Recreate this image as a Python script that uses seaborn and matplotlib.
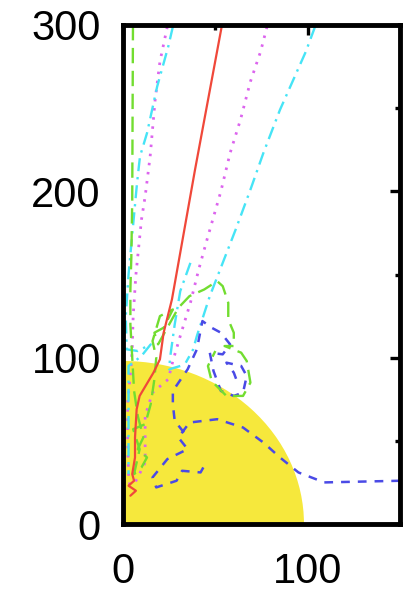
import matplotlib
matplotlib.use("Agg")
import matplotlib.pyplot as plt
from matplotlib.patches import Ellipse
from matplotlib.ticker import MultipleLocator
import seaborn as sns
import pandas as pd

# ---- data -------------------------------------------------------------
body_radius = 98

red_x = [4, 7, 3, 6, 5, 6.5, 6.5, 7.4, 9, 16.5, 20, 22, 26.5, 39, 53.6]
red_y = [17, 20, 23, 26, 30, 40, 52, 69, 77, 91, 99, 115, 135, 213, 300]

green_x = [5.4, 5.2, 5.0, 4.5, 4, 4, 5, 6, 8, 11, 8, 13, 10, 6, 9, 5.5, 12, 15, 17, 18, 16, 20,
           27, 22, 17, 19, 26, 30, 36, 44, 51, 54, 57, 57, 60, 60, 55, 64, 67, 69, 65, 56, 48, 46, 50]
green_y = [300, 250, 195, 160, 141, 120, 100, 80, 65, 52, 45, 40, 34, 30, 45, 57, 60, 72, 87, 100, 110, 125,
           129, 118, 115, 108, 122, 130, 137, 141, 146, 143, 133, 123, 115, 107, 107, 103, 98, 85, 77, 77, 86, 95, 104]

blue_a_x = [43.5, 42, 32, 29, 18, 16, 24, 35, 30, 36, 51, 65, 76, 85, 95, 109, 150]
blue_a_y = [34, 31, 32, 26, 22, 28, 39, 45, 52, 61, 63, 58, 49, 40, 31, 25, 26]
blue_b_x = [33, 28, 27, 27, 35, 40, 43, 48, 53, 58, 54, 47, 49, 53, 60, 65, 67, 64, 56, 60, 62]
blue_b_y = [55, 62, 72, 80, 93, 105, 122, 118, 115, 108, 102, 103, 92, 80, 77, 79, 89, 95, 97, 91, 85]

mag1_x = [24, 20, 17.4, 14.7, 12, 10, 7, 5.5, 5, 4, 2.5, 2.5, 3, 4]
mag1_y = [299, 278, 255, 221, 197, 183, 150, 125, 105, 90, 73, 50, 30, 20]
mag2_x = [78, 74.5, 69, 63.6, 58, 53, 45.5, 41, 36.5, 31, 27, 24.5, 16, 12, 12, 12, 8, 5]
mag2_y = [299, 284, 266, 243, 223, 200, 171, 153, 133, 113, 98, 87, 79, 65, 51, 37, 28, 22]

cyan1_x = [27, 24.5, 18.5, 13, 9.2, 7.6, 5.5, 3, 1.5, 2, 8, 15, 10, 3, 3, 3, 3]
cyan1_y = [299, 287, 263, 235, 221, 205, 180, 150, 125, 105, 104, 108, 101, 95, 70, 50, 30]
cyan2_x = [104, 99, 85, 76, 69, 61, 54, 47, 43.5, 40, 38, 34]
cyan2_y = [299, 284, 249, 223, 201, 177, 157, 137, 125, 113, 105, 97]
cyan3_x = [36.5, 31, 28, 25.5, 25, 31]
cyan3_y = [157, 140, 120, 100, 93, 95]

x_ticks = [0, 100]
y_ticks = [0, 100, 200, 300]

# ---- style ------------------------------------------------------------
sns.set_style("white")
plt.rcParams["font.family"] = ["Liberation Sans", "DejaVu Sans"]

fig = plt.figure(figsize=(4.07, 5.91), dpi=100)
ax = fig.add_axes([123 / 407, 67 / 591, 277 / 407, 499 / 591])
ax.set_axisbelow(True)

ax.add_patch(Ellipse((0, 0), 2 * body_radius, 2 * body_radius,
                     facecolor="#f6e83c", edgecolor="none", zorder=1))

RED = "#f0483a"
GREEN = "#72dd30"
BLUE = "#4a4ae6"
MAG = "#dc64ee"
CYAN = "#46e4f6"

def draw(xs, ys, color, ls, lw=1.6):
    df = pd.DataFrame({"x": xs, "y": ys})
    sns.lineplot(data=df, x="x", y="y", sort=False, estimator=None, ax=ax,
                 color=color, linewidth=lw, linestyle=ls, zorder=2)

DOT = (0, (0.9, 2.4))
DASHDOT = (0, (5.5, 2.5, 1, 2.5))
draw(mag1_x, mag1_y, MAG, DOT, 2.0)
draw(mag2_x, mag2_y, MAG, DOT, 2.0)
draw(cyan1_x, cyan1_y, CYAN, DASHDOT, 1.7)
draw(cyan2_x, cyan2_y, CYAN, DASHDOT, 1.7)
draw(cyan3_x, cyan3_y, CYAN, DASHDOT, 1.7)
draw(blue_a_x, blue_a_y, BLUE, (0, (3.5, 3.2)), 1.8)
draw(blue_b_x, blue_b_y, BLUE, (0, (3.5, 3.2)), 1.8)
draw(green_x, green_y, GREEN, (0, (6.5, 3.2)), 1.7)
draw(red_x, red_y, RED, "-", 1.6)

ax.set_xlim(0, 150)
ax.set_ylim(0, 300)
ax.set_xticks(x_ticks)
ax.set_yticks(y_ticks)
ax.xaxis.set_minor_locator(MultipleLocator(50))
ax.yaxis.set_minor_locator(MultipleLocator(50))
ax.set_xlabel("")
ax.set_ylabel("")

for s in ax.spines.values():
    s.set_visible(True)
    s.set_color("black")
    s.set_linewidth(3.5)
    s.set_zorder(5)

ax.tick_params(which="both", direction="in", top=True, right=True,
               colors="black", width=2.4, labelsize=30)
ax.tick_params(which="major", length=7.5)
ax.tick_params(which="minor", length=3.8)
ax.tick_params(axis="x", which="major", pad=20)
ax.tick_params(axis="y", which="major", pad=16)

fig.savefig("out.png", dpi=100)
